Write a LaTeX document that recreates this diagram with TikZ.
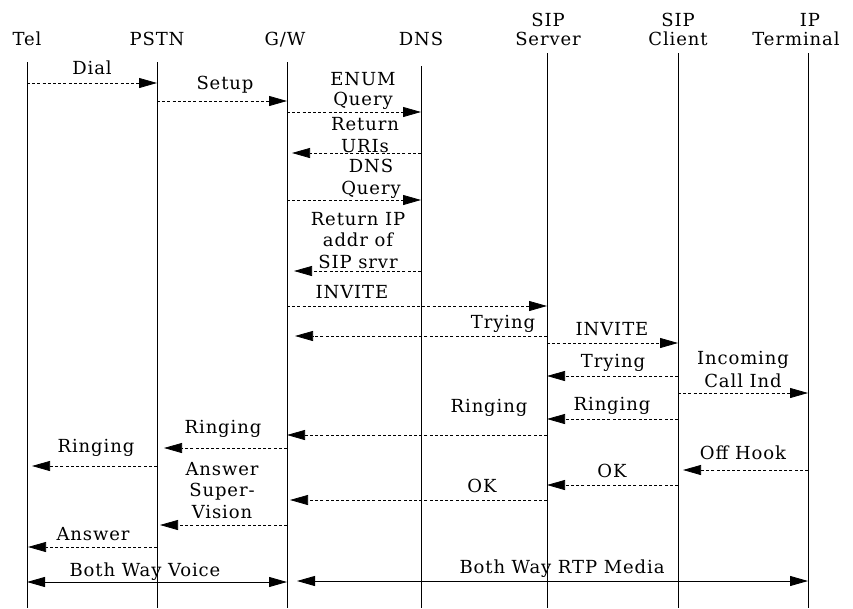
\documentclass[tikz,border=0pt]{standalone}
\usepackage{fontspec}
\setmainfont{DejaVu Serif}[LetterSpace=5]
\usetikzlibrary{arrows.meta}
\begin{document}
\begin{tikzpicture}[x=1pt,y=-1pt,
  life/.style={line width=0.8pt},
  tipA/.tip={Triangle[length=18pt,width=10pt]},
  msg/.style={line width=0.75pt, dash pattern=on 3pt off 2.2pt, -{tipA}},
  media/.style={line width=0.85pt, {tipA}-{tipA}},
  lbl/.style={font=\fontsize{18}{21.5}\selectfont, inner sep=0pt, anchor=base, align=center},
  head/.style={lbl, font=\fontsize{18}{18.5}\selectfont},
]
\useasboundingbox[fill=white] (0,0) rectangle (853,608);
% headers
\node[head] (hTel)  at (27,45) {Tel};
\node[head] (hPSTN) at (157,45) {PSTN};
\node[head] (hGW)   at (285,45) {G/W};
\node[head] (hDNS)  at (421,45) {DNS};
\node[head] (hSS)   at (548,45) {SIP\\Server};
\node[head] (hSC)   at (678,45) {SIP\\Client};
\node[head] (hIP)   at (796,45) {\hspace*{28pt}IP\\Terminal};
% lifelines
\coordinate (L1) at (27,62);
\coordinate (L2) at (157,62);
\coordinate (L3) at (287,62);
\coordinate (L4) at (421,66);
\coordinate (L5) at (547,53);
\coordinate (L6) at (678,53);
\coordinate (L7) at (808,53);
\foreach \c in {L1,L2,L3,L4,L5,L6,L7}{
  \coordinate (\c b) at (\c |- 0,608);
  \draw[life] (\c) -- (\c b);
}
% messages
\draw[msg] (L1 |- 0,83) -- (L2 |- 0,83);
\node[lbl] (tDial) at (92,74) {Dial};
\draw[msg] (L2 |- 0,101) -- (L3 |- 0,101);
\node[lbl] (tSetup) at (225,89) {Setup};
\draw[msg] (L3 |- 0,112) -- (L4 |- 0,112);
\node[lbl, font=\fontsize{18}{20}\selectfont] (tEnum) at (363,105) {ENUM\\Query};
\draw[msg, shorten >=5pt] (L4 |- 0,153) -- (L3 |- 0,153);
\node[lbl] (tURI) at (365,152) {Return\\URIs};
\draw[msg] (L3 |- 0,200) -- (L4 |- 0,200);
\node[lbl] (tDNSq) at (371,194) {DNS\\Query};
\draw[msg, shorten >=7pt] (L4 |- 0,271) -- (L3 |- 0,271);
\node[lbl] (tRIP) at (358,268) {Return IP\\addr of\\SIP srvr};
\draw[msg] (L3 |- 0,306) -- (L5 |- 0,306);
\node[lbl] (tInv1) at (352,298) {INVITE};
\draw[msg, shorten >=8pt] (L5 |- 0,336) -- (L3 |- 0,336);
\node[lbl] (tTry1) at (503,328) {Trying};
\draw[msg] (L5 |- 0,343) -- (L6 |- 0,343);
\node[lbl] (tInv2) at (612,335) {INVITE};
\draw[msg] (L6 |- 0,376) -- (L5 |- 0,376);
\node[lbl] (tTry2) at (613,367) {Trying};
\draw[msg] (L6 |- 0,393) -- (L7 |- 0,393);
\node[lbl, font=\fontsize{18}{23}\selectfont] (tInc) at (743,387) {Incoming\\Call Ind};
\draw[msg] (L6 |- 0,419) -- (L5 |- 0,419);
\node[lbl] (tRing1) at (612,410) {Ringing};
\draw[msg] (L5 |- 0,435) -- (L3 |- 0,435);
\node[lbl] (tRing2) at (489,412) {Ringing};
\draw[msg, shorten >=7pt] (L3 |- 0,448) -- (L2 |- 0,448);
\node[lbl] (tRing3) at (223,433) {Ringing};
\draw[msg, shorten >=5pt] (L2 |- 0,466) -- (L1 |- 0,466);
\node[lbl] (tRing4) at (96,452) {Ringing};
\draw[msg, shorten >=5pt] (L7 |- 0,470) -- (L6 |- 0,470);
\node[lbl] (tOff) at (743,459) {Off Hook};
\draw[msg] (L6 |- 0,485) -- (L5 |- 0,485);
\node[lbl] (tOK1) at (612,477) {OK};
\draw[msg, shorten >=3pt] (L5 |- 0,500) -- (L3 |- 0,500);
\node[lbl] (tOK2) at (482,492) {OK};
\draw[msg, shorten >=3pt] (L3 |- 0,525) -- (L2 |- 0,525);
\node[lbl] (tAS) at (222,518) {Answer\\Super-\\Vision};
\draw[msg, shorten >=1pt] (L2 |- 0,547) -- (L1 |- 0,547);
\node[lbl] (tAns) at (93,540) {Answer};
% media
\draw[media] (L1 |- 0,582) -- (L3 |- 0,582);
\node[lbl] (tBWV) at (145,576) {Both Way Voice};
\coordinate (R0) at (297,581);
\draw[media] (R0) -- (L7 |- R0);
\node[lbl] (tRTP) at (562,573) {Both Way RTP Media};
\end{tikzpicture}
\end{document}
